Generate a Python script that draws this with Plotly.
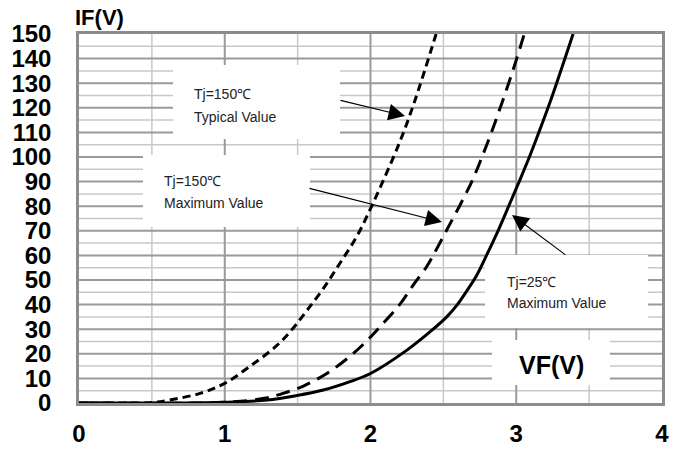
import plotly.graph_objects as go

# Forward characteristic data
typ150_vf = [0, 0.3, 0.49, 0.62, 0.83, 1.0, 1.17, 1.36, 1.47, 1.562, 1.676, 1.79, 1.905, 2.0, 2.2, 2.305, 2.45]
typ150_if = [0, 0, 0.1, 1.2, 3.9, 8, 14.8, 23.5, 30.5, 37.5, 46.5, 56.8, 67.6, 79, 106, 123, 150]

max150_vf = [0, 0.8, 1.06, 1.27, 1.4, 1.54, 1.7, 1.86, 1.97, 2.065, 2.2, 2.3, 2.385, 2.43, 2.511, 2.61,
             2.695, 2.765, 2.83, 2.89, 2.948, 3.003, 3.055]
max150_if = [0, 0, 0.5, 1.9, 3.9, 6.9, 12, 19, 25, 31, 40, 48.5, 55.4, 60, 69, 80,
             90, 100, 110, 120, 130, 140, 150]

max25_vf = [0, 0.67, 1.0, 1.29, 1.49, 1.676, 1.86, 2.0, 2.25, 2.43, 2.523, 2.596, 2.66, 2.725, 2.8,
            2.875, 2.948, 3.02, 3.09, 3.155, 3.218, 3.277, 3.334, 3.39]
max25_if = [0, 0, 0.3, 1.2, 3, 5.3, 8.7, 12, 21.5, 30, 35, 40, 45.5, 51.5, 60.5,
            70, 80, 90, 100, 110, 120, 130, 140, 150]

x_ticks = [0, 1, 2, 3, 4]
x_minor = [0.5, 1.5, 2.5, 3.5]
y_ticks = list(range(0, 151, 10))
y_minor = list(range(5, 150, 10))

X_MAX, Y_MAX = 4, 150

# plot area in pixels
W, H = 682, 450
L, R, T, B = 79, 662, 34, 403


def px(xp):
    return (xp - L) / (R - L)


def py(yp):
    return (B - yp) / (B - T)


FONT = "Liberation Sans, Arial, sans-serif"
MAJOR = dict(color="#9a9a9a", width=2)
MINOR = dict(color="#c8c8c8", width=1.5)

fig = go.Figure()
fig.add_trace(go.Scatter(x=typ150_vf, y=typ150_if, mode="lines", line_shape="spline",
                         line=dict(color="black", width=3, dash="8px,5px"), showlegend=False))
fig.add_trace(go.Scatter(x=max150_vf, y=max150_if, mode="lines", line_shape="spline",
                         line=dict(color="black", width=3, dash="14px,8px"), showlegend=False))
fig.add_trace(go.Scatter(x=max25_vf, y=max25_if, mode="lines", line_shape="spline",
                         line=dict(color="black", width=3), showlegend=False))

shapes = []
# grid lines (drawn below the data)
for v in y_minor:
    shapes.append(dict(type="line", xref="x", yref="y", x0=0, x1=X_MAX, y0=v, y1=v,
                       line=MINOR, layer="below"))
for v in x_minor:
    shapes.append(dict(type="line", xref="x", yref="y", x0=v, x1=v, y0=0, y1=Y_MAX,
                       line=MINOR, layer="below"))
for v in y_ticks[1:-1]:
    shapes.append(dict(type="line", xref="x", yref="y", x0=0, x1=X_MAX, y0=v, y1=v,
                       line=MAJOR, layer="below"))
for v in x_ticks[1:-1]:
    shapes.append(dict(type="line", xref="x", yref="y", x0=v, x1=v, y0=0, y1=Y_MAX,
                       line=MAJOR, layer="below"))

# white label boxes (same layer as grid, drawn after it)
for (x0, y0, x1, y1) in [(173, 65, 340, 139), (143, 155, 310, 227), (485, 255, 648, 328), (492, 340, 610, 385)]:
    shapes.append(dict(type="rect", xref="x", yref="y",
                       x0=px(x0) * X_MAX, x1=px(x1) * X_MAX,
                       y0=py(y1) * Y_MAX, y1=py(y0) * Y_MAX,
                       fillcolor="white", line=dict(width=0), layer="below"))

annotations = []
text_lines = [
    ("Tj=150℃", 192, 94), ("Typical Value", 192, 117),
    ("Tj=150℃", 162, 181), ("Maximum Value", 162, 203),
    ("Tj=25℃", 505, 282), ("Maximum Value", 505, 303),
]
for txt, xp, yp in text_lines:
    annotations.append(dict(text=txt, xref="paper", yref="paper", x=px(xp), y=py(yp),
                            xanchor="left", yanchor="middle", showarrow=False,
                            font=dict(family=FONT, size=14, color="#222")))

annotations.append(dict(text="<b>VF(V)</b>", xref="paper", yref="paper", x=px(551), y=py(365),
                        xanchor="center", yanchor="middle", showarrow=False,
                        font=dict(family=FONT, size=25, color="black")))
annotations.append(dict(text="<b>IF(V)</b>", xref="paper", yref="paper", x=px(99), y=py(18),
                        xanchor="center", yanchor="middle", showarrow=False,
                        font=dict(family=FONT, size=22, color="black")))

# arrows: (tail px, tip px)
for (tx, ty, hx, hy) in [(339, 100, 405, 116), (308, 188, 442, 222), (567, 256, 512, 215)]:
    annotations.append(dict(text="", xref="x domain", yref="y domain", x=px(hx), y=py(hy),
                            axref="x domain", ayref="y domain", ax=px(tx), ay=py(ty),
                            showarrow=True, arrowhead=2, arrowsize=3, arrowwidth=1.1,
                            arrowcolor="black", standoff=0))

fig.update_layout(
    width=W, height=H,
    margin=dict(l=L, r=W - R, t=T, b=H - B, autoexpand=False),
    paper_bgcolor="white", plot_bgcolor="white",
    shapes=shapes, annotations=annotations,
    xaxis=dict(range=[0, X_MAX], tickmode="array", tickvals=x_ticks, ticktext=[str(v) for v in x_ticks],
               automargin=False, showgrid=False, zeroline=False,
               showline=True, mirror=True, linecolor="#8c8c8c", linewidth=2.5,
               ticks="outside", ticklen=7, tickcolor="rgba(0,0,0,0)",
               tickfont=dict(family=FONT, size=24, color="black", weight="bold")),
    yaxis=dict(range=[0, Y_MAX], tickmode="array", tickvals=y_ticks, ticktext=[str(v) for v in y_ticks],
               automargin=False, showgrid=False, zeroline=False,
               showline=True, mirror=True, linecolor="#8c8c8c", linewidth=2.5,
               ticks="outside", ticklen=20, tickcolor="rgba(0,0,0,0)",
               tickfont=dict(family=FONT, size=24, color="black", weight="bold")),
)

fig.write_html("out.html")
